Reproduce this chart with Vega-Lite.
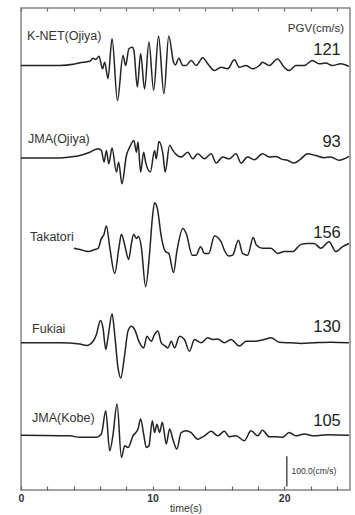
{
  "$schema": "https://vega.github.io/schema/vega-lite/v6.json",
  "width": 329,
  "height": 482,
  "autosize": {"type": "none"},
  "padding": {"left": 21, "top": 8, "right": 5, "bottom": 25},
  "background": "white",
  "config": {"font": "Liberation Sans", "view": {"stroke": "#858585", "strokeWidth": 1.5}},
  "datasets": {
    "waves": [
      {"station":"K-NET(Ojiya)","t":0,"v":0},{"station":"K-NET(Ojiya)","t":2.95,"v":0},{"station":"K-NET(Ojiya)","t":4.09,"v":5},{"station":"K-NET(Ojiya)","t":4.73,"v":11},{"station":"K-NET(Ojiya)","t":5.23,"v":14},{"station":"K-NET(Ojiya)","t":5.48,"v":24},{"station":"K-NET(Ojiya)","t":5.68,"v":20},{"station":"K-NET(Ojiya)","t":5.93,"v":31},{"station":"K-NET(Ojiya)","t":6.19,"v":-11},{"station":"K-NET(Ojiya)","t":6.36,"v":11},{"station":"K-NET(Ojiya)","t":6.61,"v":-44},{"station":"K-NET(Ojiya)","t":6.92,"v":89},{"station":"K-NET(Ojiya)","t":7.33,"v":-117},{"station":"K-NET(Ojiya)","t":7.75,"v":33},{"station":"K-NET(Ojiya)","t":7.95,"v":0},{"station":"K-NET(Ojiya)","t":8.2,"v":56},{"station":"K-NET(Ojiya)","t":8.46,"v":61},{"station":"K-NET(Ojiya)","t":8.58,"v":50},{"station":"K-NET(Ojiya)","t":8.84,"v":-72},{"station":"K-NET(Ojiya)","t":9.09,"v":39},{"station":"K-NET(Ojiya)","t":9.39,"v":-78},{"station":"K-NET(Ojiya)","t":9.72,"v":78},{"station":"K-NET(Ojiya)","t":10.08,"v":-83},{"station":"K-NET(Ojiya)","t":10.45,"v":98},{"station":"K-NET(Ojiya)","t":10.86,"v":-94},{"station":"K-NET(Ojiya)","t":11.23,"v":98},{"station":"K-NET(Ojiya)","t":11.59,"v":11},{"station":"K-NET(Ojiya)","t":11.74,"v":2},{"station":"K-NET(Ojiya)","t":11.99,"v":24},{"station":"K-NET(Ojiya)","t":12.3,"v":0},{"station":"K-NET(Ojiya)","t":12.55,"v":0},{"station":"K-NET(Ojiya)","t":12.93,"v":17},{"station":"K-NET(Ojiya)","t":13.31,"v":0},{"station":"K-NET(Ojiya)","t":13.81,"v":26},{"station":"K-NET(Ojiya)","t":14.19,"v":6},{"station":"K-NET(Ojiya)","t":14.7,"v":-17},{"station":"K-NET(Ojiya)","t":15.2,"v":-6},{"station":"K-NET(Ojiya)","t":15.7,"v":-11},{"station":"K-NET(Ojiya)","t":16.21,"v":19},{"station":"K-NET(Ojiya)","t":16.59,"v":-6},{"station":"K-NET(Ojiya)","t":17.1,"v":0},{"station":"K-NET(Ojiya)","t":17.6,"v":-11},{"station":"K-NET(Ojiya)","t":18.11,"v":0},{"station":"K-NET(Ojiya)","t":18.36,"v":11},{"station":"K-NET(Ojiya)","t":18.86,"v":0},{"station":"K-NET(Ojiya)","t":19.49,"v":22},{"station":"K-NET(Ojiya)","t":20.0,"v":-6},{"station":"K-NET(Ojiya)","t":20.38,"v":-17},{"station":"K-NET(Ojiya)","t":20.89,"v":0},{"station":"K-NET(Ojiya)","t":21.52,"v":0},{"station":"K-NET(Ojiya)","t":22.14,"v":17},{"station":"K-NET(Ojiya)","t":22.65,"v":6},{"station":"K-NET(Ojiya)","t":23.16,"v":8},{"station":"K-NET(Ojiya)","t":23.66,"v":0},{"station":"K-NET(Ojiya)","t":24.3,"v":6},{"station":"K-NET(Ojiya)","t":24.92,"v":-3},

      {"station":"JMA(Ojiya)","t":0,"v":0},{"station":"JMA(Ojiya)","t":2.95,"v":0},{"station":"JMA(Ojiya)","t":3.71,"v":3},{"station":"JMA(Ojiya)","t":4.47,"v":8},{"station":"JMA(Ojiya)","t":5.23,"v":19},{"station":"JMA(Ojiya)","t":5.86,"v":31},{"station":"JMA(Ojiya)","t":6.11,"v":25},{"station":"JMA(Ojiya)","t":6.31,"v":-14},{"station":"JMA(Ojiya)","t":6.49,"v":25},{"station":"JMA(Ojiya)","t":6.67,"v":-19},{"station":"JMA(Ojiya)","t":6.92,"v":33},{"station":"JMA(Ojiya)","t":7.25,"v":-47},{"station":"JMA(Ojiya)","t":7.42,"v":-14},{"station":"JMA(Ojiya)","t":7.67,"v":-86},{"station":"JMA(Ojiya)","t":8.01,"v":8},{"station":"JMA(Ojiya)","t":8.26,"v":36},{"station":"JMA(Ojiya)","t":8.58,"v":58},{"station":"JMA(Ojiya)","t":8.77,"v":19},{"station":"JMA(Ojiya)","t":8.89,"v":53},{"station":"JMA(Ojiya)","t":9.09,"v":-47},{"station":"JMA(Ojiya)","t":9.32,"v":19},{"station":"JMA(Ojiya)","t":9.47,"v":-14},{"station":"JMA(Ojiya)","t":9.83,"v":-47},{"station":"JMA(Ojiya)","t":10.15,"v":25},{"station":"JMA(Ojiya)","t":10.28,"v":-3},{"station":"JMA(Ojiya)","t":10.48,"v":55},{"station":"JMA(Ojiya)","t":10.78,"v":14},{"station":"JMA(Ojiya)","t":10.96,"v":-47},{"station":"JMA(Ojiya)","t":11.29,"v":42},{"station":"JMA(Ojiya)","t":11.54,"v":25},{"station":"JMA(Ojiya)","t":11.8,"v":11},{"station":"JMA(Ojiya)","t":12.17,"v":3},{"station":"JMA(Ojiya)","t":12.67,"v":19},{"station":"JMA(Ojiya)","t":13.05,"v":-3},{"station":"JMA(Ojiya)","t":13.43,"v":14},{"station":"JMA(Ojiya)","t":13.94,"v":-3},{"station":"JMA(Ojiya)","t":14.45,"v":14},{"station":"JMA(Ojiya)","t":14.83,"v":-17},{"station":"JMA(Ojiya)","t":15.33,"v":3},{"station":"JMA(Ojiya)","t":15.83,"v":-3},{"station":"JMA(Ojiya)","t":16.34,"v":14},{"station":"JMA(Ojiya)","t":16.72,"v":-17},{"station":"JMA(Ojiya)","t":17.22,"v":3},{"station":"JMA(Ojiya)","t":17.73,"v":-6},{"station":"JMA(Ojiya)","t":18.36,"v":14},{"station":"JMA(Ojiya)","t":18.86,"v":3},{"station":"JMA(Ojiya)","t":19.37,"v":5},{"station":"JMA(Ojiya)","t":19.75,"v":-3},{"station":"JMA(Ojiya)","t":20.25,"v":-8},{"station":"JMA(Ojiya)","t":20.76,"v":-17},{"station":"JMA(Ojiya)","t":21.27,"v":-3},{"station":"JMA(Ojiya)","t":21.77,"v":14},{"station":"JMA(Ojiya)","t":22.4,"v":8},{"station":"JMA(Ojiya)","t":23.03,"v":1},{"station":"JMA(Ojiya)","t":23.54,"v":3},{"station":"JMA(Ojiya)","t":24.17,"v":-8},{"station":"JMA(Ojiya)","t":24.92,"v":5},

      {"station":"Takatori","t":4.02,"v":7},{"station":"Takatori","t":4.47,"v":3},{"station":"Takatori","t":5.1,"v":-4},{"station":"Takatori","t":5.61,"v":3},{"station":"Takatori","t":5.86,"v":7},{"station":"Takatori","t":6.11,"v":40},{"station":"Takatori","t":6.29,"v":51},{"station":"Takatori","t":6.49,"v":81},{"station":"Takatori","t":6.74,"v":12},{"station":"Takatori","t":7.12,"v":-77},{"station":"Takatori","t":7.45,"v":12},{"station":"Takatori","t":7.63,"v":54},{"station":"Takatori","t":7.88,"v":18},{"station":"Takatori","t":8.18,"v":-30},{"station":"Takatori","t":8.39,"v":23},{"station":"Takatori","t":8.56,"v":54},{"station":"Takatori","t":8.77,"v":40},{"station":"Takatori","t":8.94,"v":46},{"station":"Takatori","t":9.14,"v":12},{"station":"Takatori","t":9.47,"v":-121},{"station":"Takatori","t":9.77,"v":-10},{"station":"Takatori","t":9.98,"v":107},{"station":"Takatori","t":10.15,"v":159},{"station":"Takatori","t":10.36,"v":140},{"station":"Takatori","t":10.66,"v":46},{"station":"Takatori","t":10.98,"v":-4},{"station":"Takatori","t":11.23,"v":-10},{"station":"Takatori","t":11.59,"v":-74},{"station":"Takatori","t":11.84,"v":-4},{"station":"Takatori","t":12.3,"v":73},{"station":"Takatori","t":12.55,"v":57},{"station":"Takatori","t":13.01,"v":-16},{"station":"Takatori","t":13.31,"v":-16},{"station":"Takatori","t":13.64,"v":12},{"station":"Takatori","t":13.94,"v":-10},{"station":"Takatori","t":14.27,"v":-10},{"station":"Takatori","t":14.7,"v":48},{"station":"Takatori","t":15.2,"v":29},{"station":"Takatori","t":15.45,"v":1},{"station":"Takatori","t":15.78,"v":-19},{"station":"Takatori","t":16.08,"v":-16},{"station":"Takatori","t":16.52,"v":34},{"station":"Takatori","t":16.84,"v":-10},{"station":"Takatori","t":17.22,"v":-16},{"station":"Takatori","t":17.65,"v":43},{"station":"Takatori","t":17.88,"v":18},{"station":"Takatori","t":18.36,"v":7},{"station":"Takatori","t":18.99,"v":7},{"station":"Takatori","t":19.49,"v":-10},{"station":"Takatori","t":20.0,"v":-4},{"station":"Takatori","t":20.63,"v":-4},{"station":"Takatori","t":21.27,"v":20},{"station":"Takatori","t":21.77,"v":23},{"station":"Takatori","t":22.27,"v":23},{"station":"Takatori","t":22.78,"v":7},{"station":"Takatori","t":23.41,"v":29},{"station":"Takatori","t":23.92,"v":-4},{"station":"Takatori","t":24.42,"v":12},{"station":"Takatori","t":24.92,"v":23},

      {"station":"Fukiai","t":0,"v":0},{"station":"Fukiai","t":2.95,"v":0},{"station":"Fukiai","t":4.47,"v":-4},{"station":"Fukiai","t":4.98,"v":-9},{"station":"Fukiai","t":5.48,"v":5},{"station":"Fukiai","t":5.73,"v":28},{"station":"Fukiai","t":6.04,"v":74},{"station":"Fukiai","t":6.23,"v":50},{"station":"Fukiai","t":6.44,"v":-22},{"station":"Fukiai","t":6.61,"v":17},{"station":"Fukiai","t":6.92,"v":97},{"station":"Fukiai","t":7.12,"v":28},{"station":"Fukiai","t":7.37,"v":-83},{"station":"Fukiai","t":7.58,"v":-117},{"station":"Fukiai","t":7.88,"v":-39},{"station":"Fukiai","t":8.13,"v":39},{"station":"Fukiai","t":8.39,"v":55},{"station":"Fukiai","t":8.64,"v":44},{"station":"Fukiai","t":8.96,"v":5},{"station":"Fukiai","t":9.32,"v":-17},{"station":"Fukiai","t":9.57,"v":22},{"station":"Fukiai","t":9.9,"v":5},{"station":"Fukiai","t":10.15,"v":28},{"station":"Fukiai","t":10.4,"v":39},{"station":"Fukiai","t":10.66,"v":0},{"station":"Fukiai","t":10.98,"v":-11},{"station":"Fukiai","t":11.16,"v":-17},{"station":"Fukiai","t":11.42,"v":5},{"station":"Fukiai","t":11.67,"v":-17},{"station":"Fukiai","t":12.05,"v":22},{"station":"Fukiai","t":12.42,"v":11},{"station":"Fukiai","t":12.8,"v":-28},{"station":"Fukiai","t":13.18,"v":11},{"station":"Fukiai","t":13.69,"v":0},{"station":"Fukiai","t":14.19,"v":17},{"station":"Fukiai","t":14.57,"v":11},{"station":"Fukiai","t":14.95,"v":13},{"station":"Fukiai","t":15.45,"v":0},{"station":"Fukiai","t":15.96,"v":11},{"station":"Fukiai","t":16.59,"v":-11},{"station":"Fukiai","t":17.1,"v":5},{"station":"Fukiai","t":17.73,"v":5},{"station":"Fukiai","t":18.48,"v":11},{"station":"Fukiai","t":18.99,"v":17},{"station":"Fukiai","t":19.62,"v":2},{"station":"Fukiai","t":20.51,"v":0},{"station":"Fukiai","t":21.27,"v":-2},{"station":"Fukiai","t":22.27,"v":0},{"station":"Fukiai","t":23.54,"v":2},{"station":"Fukiai","t":24.92,"v":0},

      {"station":"JMA(Kobe)","t":0,"v":0},{"station":"JMA(Kobe)","t":3.71,"v":-2},{"station":"JMA(Kobe)","t":4.47,"v":-7},{"station":"JMA(Kobe)","t":5.73,"v":-7},{"station":"JMA(Kobe)","t":6.11,"v":4},{"station":"JMA(Kobe)","t":6.44,"v":82},{"station":"JMA(Kobe)","t":6.74,"v":-52},{"station":"JMA(Kobe)","t":6.98,"v":-2},{"station":"JMA(Kobe)","t":7.3,"v":104},{"station":"JMA(Kobe)","t":7.63,"v":-74},{"station":"JMA(Kobe)","t":7.88,"v":-35},{"station":"JMA(Kobe)","t":8.13,"v":-41},{"station":"JMA(Kobe)","t":8.51,"v":-2},{"station":"JMA(Kobe)","t":8.89,"v":21},{"station":"JMA(Kobe)","t":9.09,"v":54},{"station":"JMA(Kobe)","t":9.32,"v":4},{"station":"JMA(Kobe)","t":9.52,"v":-41},{"station":"JMA(Kobe)","t":9.72,"v":-35},{"station":"JMA(Kobe)","t":9.98,"v":48},{"station":"JMA(Kobe)","t":10.15,"v":9},{"station":"JMA(Kobe)","t":10.33,"v":37},{"station":"JMA(Kobe)","t":10.53,"v":9},{"station":"JMA(Kobe)","t":10.74,"v":43},{"station":"JMA(Kobe)","t":11.04,"v":-29},{"station":"JMA(Kobe)","t":11.29,"v":21},{"station":"JMA(Kobe)","t":11.54,"v":-13},{"station":"JMA(Kobe)","t":11.84,"v":-46},{"station":"JMA(Kobe)","t":12.17,"v":9},{"station":"JMA(Kobe)","t":12.55,"v":15},{"station":"JMA(Kobe)","t":12.93,"v":9},{"station":"JMA(Kobe)","t":13.43,"v":-13},{"station":"JMA(Kobe)","t":13.94,"v":-2},{"station":"JMA(Kobe)","t":14.45,"v":13},{"station":"JMA(Kobe)","t":14.95,"v":-2},{"station":"JMA(Kobe)","t":15.45,"v":13},{"station":"JMA(Kobe)","t":15.83,"v":-5},{"station":"JMA(Kobe)","t":16.34,"v":-2},{"station":"JMA(Kobe)","t":16.97,"v":-18},{"station":"JMA(Kobe)","t":17.48,"v":15},{"station":"JMA(Kobe)","t":17.98,"v":-2},{"station":"JMA(Kobe)","t":18.36,"v":17},{"station":"JMA(Kobe)","t":18.86,"v":-5},{"station":"JMA(Kobe)","t":19.37,"v":-5},{"station":"JMA(Kobe)","t":19.87,"v":-7},{"station":"JMA(Kobe)","t":20.38,"v":9},{"station":"JMA(Kobe)","t":20.89,"v":-2},{"station":"JMA(Kobe)","t":21.52,"v":4},{"station":"JMA(Kobe)","t":22.27,"v":-2},{"station":"JMA(Kobe)","t":23.28,"v":2},{"station":"JMA(Kobe)","t":24.92,"v":0}
    ],
    "names": [
      {"station":"K-NET(Ojiya)","t":0.46,"v":97,"label":"K-NET(Ojiya)"},
      {"station":"JMA(Ojiya)","t":0.53,"v":64,"label":"JMA(Ojiya)"},
      {"station":"Takatori","t":0.68,"v":46,"label":"Takatori"},
      {"station":"Fukiai","t":0.84,"v":47,"label":"Fukiai"},
      {"station":"JMA(Kobe)","t":0.84,"v":57,"label":"JMA(Kobe)"}
    ],
    "pgv": [
      {"station":"K-NET(Ojiya)","t":24.3,"v":50,"value":"121"},
      {"station":"JMA(Ojiya)","t":24.3,"v":52,"value":"93"},
      {"station":"Takatori","t":24.3,"v":57,"value":"156"},
      {"station":"Fukiai","t":24.3,"v":53,"value":"130"},
      {"station":"JMA(Kobe)","t":24.3,"v":48,"value":"105"}
    ],
    "header": [
      {"station":"K-NET(Ojiya)","t":24.55,"v":123,"label":"PGV(cm/s)"}
    ],
    "scalebar": [
      {"t":20.2,"lo":12,"hi":112,"tl":20.55,"yl":62,"label":"100.0(cm/s)"}
    ]
  },
  "layer": [
    {
      "layer": [
        {
          "data": {"name": "waves"},
          "mark": {"type": "line", "stroke": "#222222", "strokeWidth": 1.5, "strokeJoin": "round", "interpolate": "monotone"},
          "encoding": {
            "x": {"field": "t", "type": "quantitative",
              "scale": {"domain": [0, 25], "nice": false, "zero": false},
              "axis": {"orient": "bottom", "values": [0, 10, 20], "labelFlush": false,
                "tickSize": -4, "tickColor": "#666", "tickWidth": 1.2, "domain": false, "grid": false,
                "labelFont": "Liberation Sans", "labelFontSize": 10.5, "labelFontWeight": "bold", "labelColor": "#333", "labelPadding": 7,
                "title": "time(s)", "titleFont": "Liberation Sans", "titleFontSize": 10.5, "titleFontWeight": "normal", "titleColor": "#333", "titlePadding": 0}},
            "y": {"field": "station", "type": "nominal",
              "scale": {"type": "band", "domain": ["K-NET(Ojiya)","JMA(Ojiya)","Takatori","Fukiai","JMA(Kobe)"], "paddingInner": 0, "paddingOuter": 0.107, "align": 0.5},
              "axis": null},
            "yOffset": {"field": "v", "type": "quantitative", "scale": {"domain": [-100, 100], "range": [77.6, 17.6], "nice": false, "zero": false}},
            "detail": {"field": "station"},
            "order": {"field": "t", "type": "quantitative"}
          }
        },
        {
          "data": {"name": "names"},
          "mark": {"type": "text", "align": "left", "baseline": "middle", "fontSize": 12.5, "fill": "#333", "font": "Liberation Sans"},
          "encoding": {
            "x": {"field": "t", "type": "quantitative"},
            "y": {"field": "station", "type": "nominal"},
            "yOffset": {"field": "v", "type": "quantitative"},
            "text": {"field": "label"}
          }
        },
        {
          "data": {"name": "pgv"},
          "mark": {"type": "text", "align": "right", "baseline": "middle", "fontSize": 16.5, "fill": "#222", "font": "Liberation Sans"},
          "encoding": {
            "x": {"field": "t", "type": "quantitative"},
            "y": {"field": "station", "type": "nominal"},
            "yOffset": {"field": "v", "type": "quantitative"},
            "text": {"field": "value"}
          }
        },
        {
          "data": {"name": "header"},
          "mark": {"type": "text", "align": "right", "baseline": "middle", "fontSize": 11.5, "fill": "#333", "font": "Liberation Sans"},
          "encoding": {
            "x": {"field": "t", "type": "quantitative"},
            "y": {"field": "station", "type": "nominal"},
            "yOffset": {"field": "v", "type": "quantitative"},
            "text": {"field": "label"}
          }
        }
      ]
    },
    {
      "data": {"name": "scalebar"},
      "mark": {"type": "rule", "stroke": "#333", "strokeWidth": 1.3},
      "encoding": {
        "x": {"field": "t", "type": "quantitative",
          "scale": {"domain": [0, 25], "nice": false, "zero": false},
          "axis": {"orient": "top", "values": [0,2,4,6,8,10,12,14,16,18,20,22,24], "labels": false, "title": null,
            "tickSize": -3, "tickColor": "#666", "tickWidth": 1.2, "domain": false, "grid": false}},
        "y": {"field": "lo", "type": "quantitative", "scale": {"domain": [0, 1600], "nice": false, "zero": false}, "axis": null},
        "y2": {"field": "hi"}
      }
    },
    {
      "data": {"name": "scalebar"},
      "mark": {"type": "text", "align": "left", "baseline": "middle", "fontSize": 8.5, "fill": "#333", "font": "Liberation Sans"},
      "encoding": {
        "x": {"field": "tl", "type": "quantitative",
          "scale": {"domain": [0, 25], "nice": false, "zero": false},
          "axis": {"orient": "bottom", "values": [2,4,6,8,12,14,16,18,22,24], "labels": false, "title": null,
            "tickSize": -4, "tickColor": "#666", "tickWidth": 1.2, "domain": false, "grid": false}},
        "y": {"field": "yl", "type": "quantitative", "scale": {"domain": [0, 1600], "nice": false, "zero": false}, "axis": null},
        "text": {"field": "label"}
      }
    }
  ],
  "resolve": {"scale": {"y": "independent", "yOffset": "independent"}, "axis": {"x": "independent"}}
}
